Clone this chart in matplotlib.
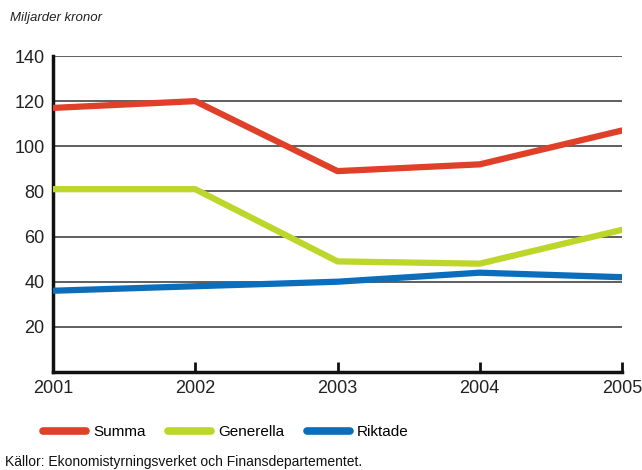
import matplotlib
matplotlib.use("Agg")
import matplotlib.pyplot as plt

years = [2001, 2002, 2003, 2004, 2005]
summa = [117, 120, 89, 92, 107]
generella = [81, 81, 49, 48, 63]
riktade = [36, 38, 40, 44, 42]
yticks = [20, 40, 60, 80, 100, 120, 140]

plt.rcParams["font.family"] = ["Liberation Sans", "DejaVu Sans"]

fig = plt.figure(figsize=(6.42, 4.70), dpi=100)
ax = fig.add_axes([53 / 642, 1 - 372 / 470, (622 - 53) / 642, (372 - 56) / 470])

for y in yticks:
    ax.axhline(y, color="#333333", lw=1.1, zorder=1)

ax.plot(years, summa, color="#E0402A", lw=4.5, solid_capstyle="round", label="Summa", zorder=3)
ax.plot(years, generella, color="#BCD62A", lw=4.5, solid_capstyle="round", label="Generella", zorder=3)
ax.plot(years, riktade, color="#0A6EBD", lw=4.5, solid_capstyle="round", label="Riktade", zorder=3)

ax.set_xlim(2001, 2005)
ax.set_ylim(0, 140)
ax.set_xticks(years)
ax.set_yticks(yticks)
ax.tick_params(axis="x", direction="in", length=7, width=2, labelsize=13, pad=6,
               color="#111111", labelcolor="#222222")
ax.tick_params(axis="y", length=0, labelsize=13, pad=6, labelcolor="#222222")
for s in ["top", "right"]:
    ax.spines[s].set_visible(False)
for s in ["left", "bottom"]:
    ax.spines[s].set_linewidth(2.5)
    ax.spines[s].set_color("#111111")

fig.text(10 / 642, 1 - 18 / 470, "Miljarder kronor", style="italic", fontsize=9.5, va="center", color="#222222")

leg = fig.legend(loc="center", bbox_to_anchor=(0.352, 1 - 432 / 470), ncol=3, frameon=False,
                 fontsize=11, handlelength=2.8, columnspacing=1.5, handletextpad=0.45)
for line in leg.get_lines():
    line.set_linewidth(5.5)

fig.text(5 / 642, 1 - 462 / 470, "Källor: Ekonomistyrningsverket och Finansdepartementet.",
         fontsize=10, va="center", color="#111111")

fig.savefig("out.png", dpi=100)
